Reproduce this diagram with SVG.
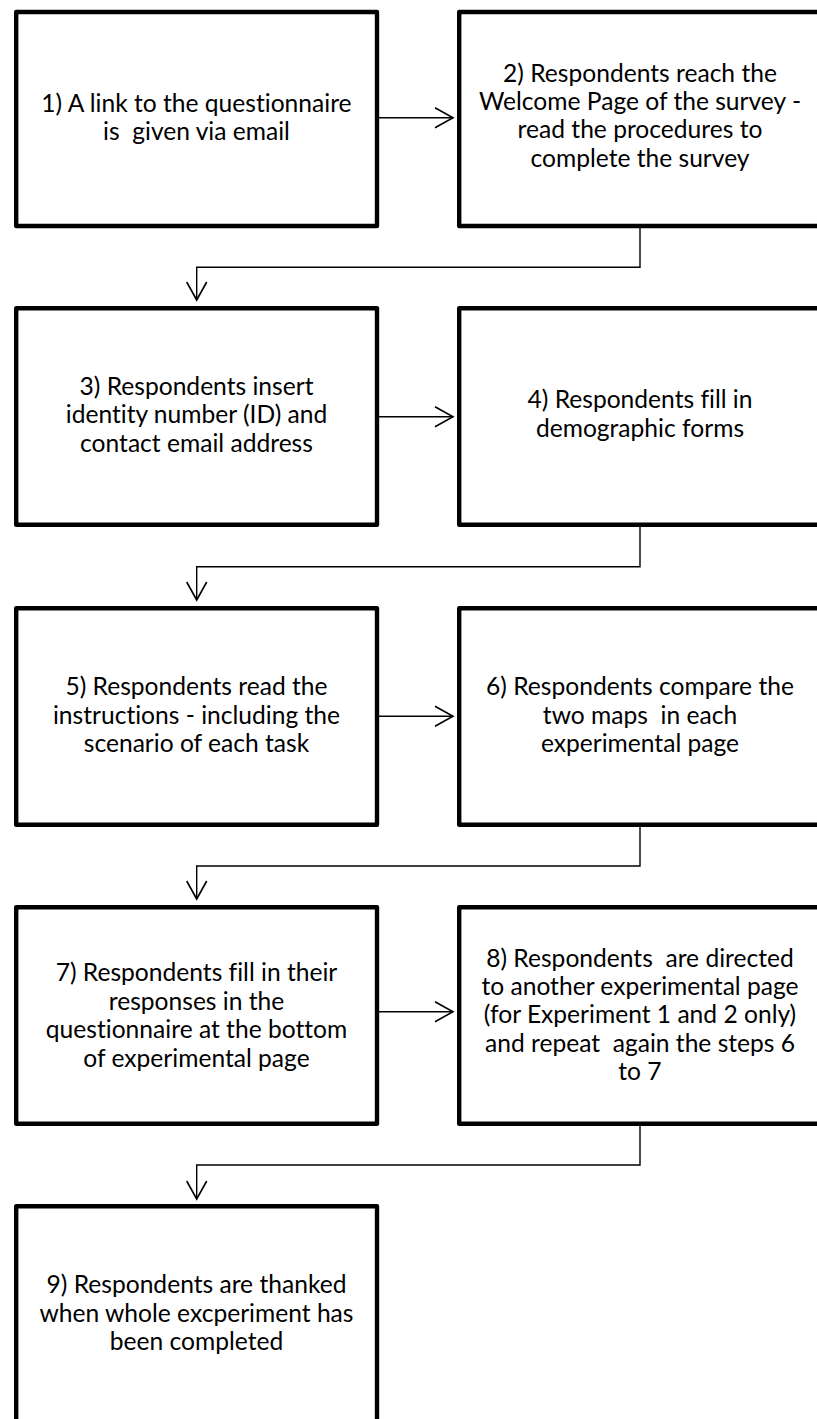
<svg xmlns="http://www.w3.org/2000/svg" width="817" height="1419" viewBox="0 0 817 1419">
  <style>
    .box { fill: #ffffff; stroke: #000000; stroke-width: 4.4; stroke-linejoin: round; }
    .lbl { font-family: "Lato", "Liberation Sans", sans-serif; font-size: 24.6px; fill: #000000; text-anchor: middle; white-space: pre; font-variant-ligatures: none; font-feature-settings: "liga" 0, "clig" 0; }
    .conn { fill: none; stroke: #000000; stroke-width: 1.4; }
  </style>
  <defs>
    <marker id="open-arrow" markerUnits="userSpaceOnUse" markerWidth="24" markerHeight="24" viewBox="-20 -12 22 24" refX="0" refY="0" orient="auto">
      <path d="M-18,-10 L0,0 L-18,10" fill="none" stroke="#000000" stroke-width="1.6"/>
    </marker>
  </defs>
  <rect width="817" height="1419" fill="#ffffff"/>

  <!-- connectors -->
  <g id="connectors" class="conn">
    <path d="M379,117.7 H453" marker-end="url(#open-arrow)"/>
    <path d="M640,228 V267.3 H196.7 V300" marker-end="url(#open-arrow)"/>
    <path d="M379,416.7 H453" marker-end="url(#open-arrow)"/>
    <path d="M640,527 V566.7 H196.7 V600" marker-end="url(#open-arrow)"/>
    <path d="M379,716.3 H453" marker-end="url(#open-arrow)"/>
    <path d="M640,827 V866 H196.7 V899" marker-end="url(#open-arrow)"/>
    <path d="M379,1011.7 H453" marker-end="url(#open-arrow)"/>
    <path d="M640,1126 V1165 H196.7 V1199" marker-end="url(#open-arrow)"/>
  </g>

  <!-- step 1 -->
  <g id="step1">
    <rect class="box" x="16.2" y="12" width="360.8" height="214"/>
    <text class="lbl" x="196.5" y="111.7">1) A link to the questionnaire</text>
    <text class="lbl" x="196.5" y="140">is  given via email</text>
  </g>

  <!-- step 2 -->
  <g id="step2">
    <rect class="box" x="459.2" y="12" width="360.8" height="214"/>
    <text class="lbl" x="640" y="81.7">2) Respondents reach the</text>
    <text class="lbl" x="640" y="110">Welcome Page of the survey -</text>
    <text class="lbl" x="640" y="138.3">read the procedures to</text>
    <text class="lbl" x="640" y="166.7">complete the survey</text>
  </g>

  <!-- step 3 -->
  <g id="step3">
    <rect class="box" x="16.2" y="308.2" width="360.8" height="216.6"/>
    <text class="lbl" x="196.5" y="395">3) Respondents insert</text>
    <text class="lbl" x="196.5" y="423.3">identity number (ID) and</text>
    <text class="lbl" x="196.5" y="451.7">contact email address</text>
  </g>

  <!-- step 4 -->
  <g id="step4">
    <rect class="box" x="459.2" y="308.2" width="360.8" height="216.6"/>
    <text class="lbl" x="640" y="408.3">4) Respondents fill in</text>
    <text class="lbl" x="640" y="436.7">demographic forms</text>
  </g>

  <!-- step 5 -->
  <g id="step5">
    <rect class="box" x="16.2" y="608.2" width="360.8" height="216.6"/>
    <text class="lbl" x="196.5" y="695.1">5) Respondents read the</text>
    <text class="lbl" x="196.5" y="723.5">instructions - including the</text>
    <text class="lbl" x="196.5" y="751.9">scenario of each task</text>
  </g>

  <!-- step 6 -->
  <g id="step6">
    <rect class="box" x="459.2" y="608.2" width="360.8" height="216.6"/>
    <text class="lbl" x="640" y="695.1">6) Respondents compare the</text>
    <text class="lbl" x="640" y="723.5">two maps  in each</text>
    <text class="lbl" x="640" y="751.9">experimental page</text>
  </g>

  <!-- step 7 -->
  <g id="step7">
    <rect class="box" x="16.2" y="907.2" width="360.8" height="216.6"/>
    <text class="lbl" x="196.5" y="981">7) Respondents fill in their</text>
    <text class="lbl" x="196.5" y="1009.5">responses in the</text>
    <text class="lbl" x="196.5" y="1038">questionnaire at the bottom</text>
    <text class="lbl" x="196.5" y="1066.5">of experimental page</text>
  </g>

  <!-- step 8 -->
  <g id="step8">
    <rect class="box" x="459.2" y="907.2" width="360.8" height="216.6"/>
    <text class="lbl" x="640" y="966.7">8) Respondents  are directed</text>
    <text class="lbl" x="640" y="995">to another experimental page</text>
    <text class="lbl" x="640" y="1023.3">(for Experiment 1 and 2 only)</text>
    <text class="lbl" x="640" y="1051.7">and repeat  again the steps 6</text>
    <text class="lbl" x="640" y="1080">to 7</text>
  </g>

  <!-- step 9 -->
  <g id="step9">
    <rect class="box" x="16.2" y="1206.2" width="360.8" height="216.6"/>
    <text class="lbl" x="196.5" y="1293.3">9) Respondents are thanked</text>
    <text class="lbl" x="196.5" y="1321.7">when whole excperiment has</text>
    <text class="lbl" x="196.5" y="1350">been completed</text>
  </g>
</svg>
